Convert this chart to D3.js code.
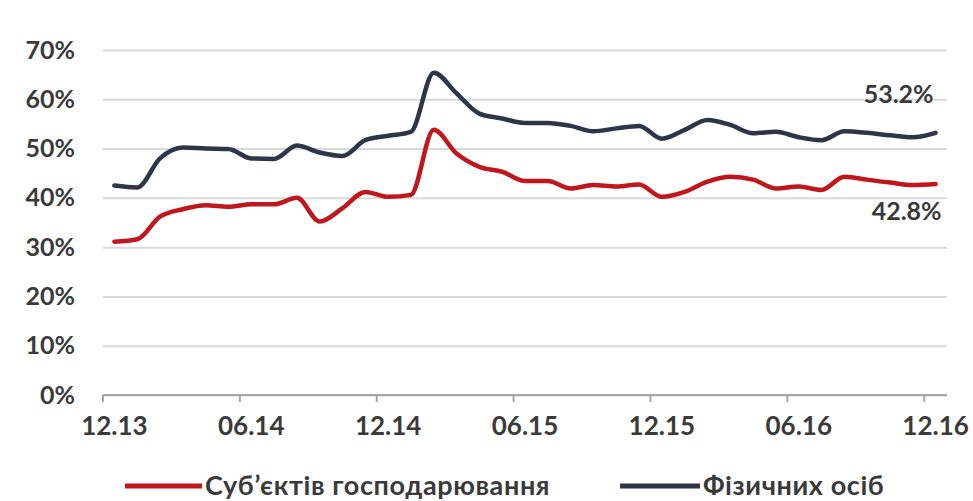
<!DOCTYPE html>
<html>
<head>
<meta charset="utf-8">
<script src="https://cdn.jsdelivr.net/npm/d3@7"></script>
<style>
  html, body { margin: 0; padding: 0; background: #fff; }
  svg { display: block; font-family: Lato, "Open Sans", sans-serif; }
</style>
</head>
<body>
<svg id="chart" width="973" height="501"></svg>
<script>
// ---- data ----
const categories = ["12.13","01.14","02.14","03.14","04.14","05.14","06.14","07.14","08.14","09.14","10.14","11.14",
  "12.14","01.15","02.15","03.15","04.15","05.15","06.15","07.15","08.15","09.15","10.15","11.15",
  "12.15","01.16","02.16","03.16","04.16","05.16","06.16","07.16","08.16","09.16","10.16","11.16","12.16"];
const tickLabels = ["12.13","06.14","12.14","06.15","12.15","06.16","12.16"];
const yTicks = [0, 0.1, 0.2, 0.3, 0.4, 0.5, 0.6, 0.7];
const seriesNames = ["Суб’єктів господарювання", "Фізичних осіб"];
const entities = [31.1, 31.6, 36.2, 37.7, 38.5, 38.2, 38.7, 38.7, 40.0, 35.2, 37.9, 41.2,
  40.2, 40.6, 53.8, 49.0, 46.3, 45.3, 43.4, 43.4, 41.9, 42.6, 42.3, 42.7,
  40.2, 41.2, 43.3, 44.3, 43.7, 41.9, 42.3, 41.6, 44.3, 43.7, 43.1, 42.6, 42.8];
const individuals = [42.5, 42.1, 48.0, 50.2, 50.0, 49.9, 48.0, 47.9, 50.6, 49.2, 48.5, 51.7,
  52.6, 53.4, 65.4, 61.2, 57.1, 56.1, 55.2, 55.2, 54.6, 53.5, 54.1, 54.6,
  52.0, 53.8, 55.8, 54.8, 53.1, 53.4, 52.3, 51.7, 53.5, 53.2, 52.7, 52.3, 53.2];
const colors = ["#c0161d", "#2e3548"];

// ---- layout ----
const svg = d3.select("#chart");
const mLeft = 103, mRight = 947, mTop = 50, mBottom = 395;
const x = d3.scaleBand().domain(categories).range([mLeft, mRight]);
const y = d3.scaleLinear().domain([0, 0.7]).range([mBottom, mTop]);
const cx = c => x(c) + x.bandwidth() / 2;
const textColor = "#3a3a3a";
const fs = 25;
const fw = 700;

// gridlines + y labels
const yAxis = svg.append("g").attr("transform", `translate(${mLeft},0)`)
  .call(d3.axisLeft(y).tickValues(yTicks).tickFormat(d3.format(".0%"))
    .tickSize(-(mRight - mLeft)).tickPadding(28));
yAxis.select(".domain").remove();
yAxis.selectAll(".tick line").attr("stroke", "#d9d9d9").attr("stroke-width", 2);
yAxis.selectAll(".tick text").attr("fill", textColor).style("font-size", fs + "px")
  .style("font-weight", fw).style("font-family", "Lato, sans-serif");

// x axis
const xAxis = svg.append("g").attr("transform", `translate(0,${mBottom})`)
  .call(d3.axisBottom(x).tickValues(tickLabels).tickSizeOuter(0).tickSize(7).tickPadding(15));
xAxis.select(".domain").attr("stroke", "#a6a6a6").attr("stroke-width", 2)
  .attr("d", `M${mLeft},0H${mRight}`);
xAxis.selectAll(".tick line").attr("stroke", "#a6a6a6").attr("stroke-width", 2)
  .attr("transform", `translate(${-x.bandwidth() / 2},0)`);
xAxis.selectAll(".tick text").attr("fill", textColor).style("font-size", (fs + 1) + "px")
  .style("font-weight", fw).style("font-family", "Lato, sans-serif");

// lines
const line = d3.line().x((d, i) => cx(categories[i])).y(d => y(d / 100))
  .curve(d3.curveMonotoneX);
[entities, individuals].forEach((data, k) => {
  svg.append("path").datum(data).attr("d", line).attr("fill", "none")
    .attr("stroke", colors[k]).attr("stroke-width", 4.5)
    .attr("stroke-linejoin", "round").attr("stroke-linecap", "round");
});

// end value labels
const last = categories[categories.length - 1];
svg.append("text").attr("x", cx(last) - 2).attr("y", y(individuals[36] / 100) - 30)
  .attr("text-anchor", "end").attr("fill", textColor).style("font-size", fs + "px")
  .style("font-weight", fw).text(individuals[36].toFixed(1) + "%");
svg.append("text").attr("x", cx(last) + 6).attr("y", y(entities[36] / 100) + 36)
  .attr("text-anchor", "end").attr("fill", textColor).style("font-size", fs + "px")
  .style("font-weight", fw).text(entities[36].toFixed(1) + "%");

// legend
const legendItems = [{x0: 125, x1: 202}, {x0: 620, x1: 700}];
legendItems.forEach((it, k) => {
  svg.append("line").attr("x1", it.x0).attr("x2", it.x1).attr("y1", 486).attr("y2", 486)
    .attr("stroke", colors[k]).attr("stroke-width", 5);
  svg.append("text").attr("x", it.x1 + 3).attr("y", 495).attr("fill", textColor)
    .style("font-size", "27px").style("font-weight", fw).style("letter-spacing", "0.6px")
    .text(seriesNames[k]);
});
</script>
</body>
</html>
